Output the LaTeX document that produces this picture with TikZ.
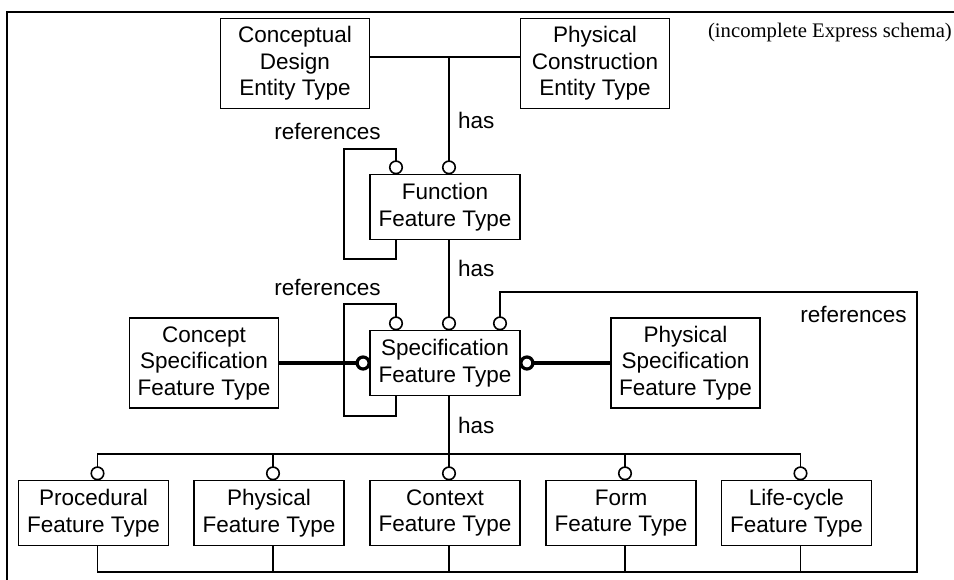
\documentclass[tikz,border=0pt]{standalone}
\usepackage{fontspec}
\setmainfont{Liberation Sans}
\newfontfamily\notefont{Liberation Serif}
\usetikzlibrary{calc}

\begin{document}
\begin{tikzpicture}[x=1pt,y=-1pt,
  entity/.style={draw,line width=1.8pt,align=center,inner sep=0pt,
    font=\fontsize{22.5}{26.5}\selectfont},
  tall/.style={minimum width=149pt,minimum height=90pt},
  flat/.style={minimum width=150pt,minimum height=65pt},
  conn/.style={line width=1.6pt},
  strong/.style={line width=3.2pt},
  ring/.style={circle,draw,fill=white,line width=1.6pt,minimum size=12.5pt,
    inner sep=0pt,outer sep=0pt,anchor=south},
  boldring/.style={circle,draw,fill=white,line width=3.2pt,minimum size=12pt,
    inner sep=0pt,outer sep=0pt},
  lbl/.style={font=\fontsize{22.5}{26.5}\selectfont,inner sep=0pt},
  frame/.style={line width=2.2pt}]

\useasboundingbox (0,0) rectangle (954,579);

% outer frame (continues past the page edges)
\draw[frame] (7,590) -- (7,12) -- (965,12);

% entity boxes
\node[entity,tall] (cd) at (295,63.5) {Conceptual\\Design\\Entity Type};
\node[entity,tall] (pc) at (595,63.5) {Physical\\Construction\\Entity Type};
\node[entity,flat] (fn) at (445,207) {Function\\Feature Type};
\node[entity,flat] (sp) at (445,363) {Specification\\Feature Type};
\node[entity,tall] (cs) at (204,363) {Concept\\Specification\\Feature Type};
\node[entity,tall] (ps) at (685.5,363) {Physical\\Specification\\Feature Type};
\node[entity,flat] (pr) at (93.5,513) {Procedural\\Feature Type};
\node[entity,flat] (ph) at (269,513) {Physical\\Feature Type};
\node[entity,flat] (cx) at (445,513) {Context\\Feature Type};
\node[entity,flat] (fo) at (621,513) {Form\\Feature Type};
\node[entity,flat] (lc) at (796.5,513) {Life-cycle\\Feature Type};

% rings on the boxes
\node[ring] (rFh) at ($(fn.north)+(4,0)$) {};
\node[ring] (rFr) at ($(fn.north)+(-49,0)$) {};
\node[ring] (rSh) at ($(sp.north)+(4,0)$) {};
\node[ring] (rSr) at ($(sp.north)+(-49,0)$) {};
\node[ring] (rSx) at ($(sp.north)+(55,0)$) {};
\node[ring] (rPr) at ($(pr.north)+(4,0)$) {};
\node[ring] (rPh) at ($(ph.north)+(4,0)$) {};
\node[ring] (rCx) at ($(cx.north)+(4,0)$) {};
\node[ring] (rFo) at ($(fo.north)+(4,0)$) {};
\node[ring] (rLc) at ($(lc.north)+(4,0)$) {};
\node[boldring,anchor=east] (rCs) at (sp.west) {};
\node[boldring,anchor=west] (rPs) at (sp.east) {};

% junction points of the connectors
\coordinate (top) at (449,57);
\coordinate (fl1) at (344,149);
\coordinate (fl2) at (344,259);
\coordinate (sl1) at (344,304);
\coordinate (sl2) at (344,416);
\coordinate (rc1) at (917,292);
\coordinate (rc2) at (917,572);
\coordinate (bus) at (0,454);
\coordinate (ret) at (0,572);

% "has" from the entity types to the function feature
\draw[conn] (cd.east |- top) -- (pc.west |- top);
\draw[conn] (top) -- (rFh.north);
% function references loop
\draw[conn] (rFr.north) |- (fl1) -- (fl2) -| (rFr.center |- fn.south);
% "has" from function to specification
\draw[conn] (rFh.center |- fn.south) -- (rSh.north);
% specification references loop
\draw[conn] (rSr.north) |- (sl1) -- (sl2) -| (rSr.center |- sp.south);
% concept / physical specification
\draw[strong] (cs.east) -- (rCs.west);
\draw[strong] (ps.west) -- (rPs.east);
% "has" from specification to the feature kinds
\draw[conn] (rSh.center |- sp.south) -- (rCx.north);
\draw[conn] (rPr.north) -- (rPr.north |- bus) -- (rLc.north |- bus) -- (rLc.north);
\draw[conn] (rPh.north) -- (rPh.north |- bus);
\draw[conn] (rFo.north) -- (rFo.north |- bus);
% references from the feature kinds back to specification
\draw[conn] (rSx.north) |- (rc1) -- (rc2) -- (rPr.center |- ret) -- (rPr.center |- pr.south);
\draw[conn] (rPh.center |- pr.south) -- (rPh.center |- ret);
\draw[conn] (rCx.center |- pr.south) -- (rCx.center |- ret);
\draw[conn] (rFo.center |- pr.south) -- (rFo.center |- ret);
\draw[conn] (rLc.center |- pr.south) -- (rLc.center |- ret);

% labels
\node[lbl,anchor=west] (h1) at (458,120) {has};
\node[lbl,anchor=west] (h2) at (458,268) {has};
\node[lbl,anchor=west] (h3) at (458,425) {has};
\node[lbl] (ref1) at (327.5,131) {references};
\node[lbl] (ref2) at (327.5,287) {references};
\node[lbl] (ref3) at (853.5,314) {references};
\node[inner sep=0pt,anchor=east,font=\notefont\fontsize{20.7}{24}\selectfont] (note) at (952,33) {(incomplete Express schema)};

\end{tikzpicture}
\end{document}
